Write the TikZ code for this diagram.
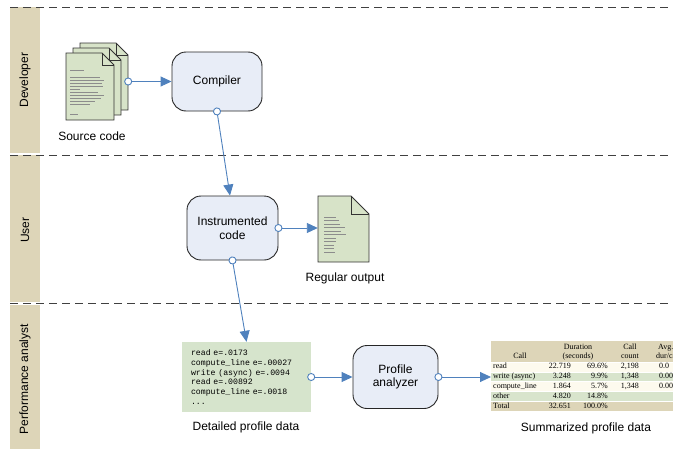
\documentclass[tikz,border=0pt]{standalone}
\usepackage{fontspec}
\setmainfont{Liberation Sans}
\newfontfamily\serifcell{Liberation Serif}
\newfontfamily\monocode{Liberation Mono}
\usetikzlibrary{arrows.meta}
\definecolor{lanetan}{RGB}{221,213,184}
\definecolor{boxfill}{RGB}{232,237,247}
\definecolor{docgreen}{RGB}{215,227,200}
\definecolor{datagreen}{RGB}{214,228,204}
\definecolor{rowcream}{RGB}{253,250,238}
\definecolor{rowgreen}{RGB}{216,228,204}
\definecolor{linkblue}{RGB}{79,129,189}
\newcommand\pageicon[5]{%
  \filldraw[docpage] (#1,#2) -- ({#1+#3-#5},#2) -- ({#1+#3},{#2+#5}) -- ({#1+#3},{#2+#4}) -- (#1,{#2+#4}) -- cycle;
  \draw[docedge] ({#1+#3-#5},#2) -- ({#1+#3-#5},{#2+#5}) -- ({#1+#3},{#2+#5});
}
\begin{document}
\begin{tikzpicture}[x=1pt,y=-1pt,
  sep/.style={draw=black!75, dash pattern=on 8pt off 5pt, line width=0.9pt},
  lanelbl/.style={rotate=90, font=\fontsize{12}{14}\selectfont},
  proc/.style={draw=black!85, fill=boxfill, rounded corners=14pt, line width=0.9pt,
    font=\fontsize{12}{13.5}\selectfont, align=center, inner sep=0pt},
  docpage/.style={draw=black!80, fill=docgreen, line width=0.8pt, line join=miter},
  docedge/.style={draw=black!80, line width=0.8pt},
  fake/.style={draw=black!45, line width=0.7pt},
  link/.style={draw=linkblue, line width=0.9pt,
    {Circle[length=8pt,width=8pt,fill=white,line width=0.9pt]}-{Triangle[length=11pt,width=10pt]},
    shorten <=-4pt},
  lbl/.style={font=\fontsize{12}{14}\selectfont, inner sep=0pt},
  cell/.style={font=\serifcell\fontsize{8}{9}\selectfont, inner sep=0pt, text height=5.6pt, text depth=1.6pt},
  rowsep/.style={draw=white, line width=0.6pt}
]
\useasboundingbox (0,0) rectangle (673,450);
\clip (0,0) rectangle (673,450);

% swim lanes
\fill[lanetan] (10,7) rectangle (40,153);
\fill[lanetan] (10,155) rectangle (40,302);
\fill[lanetan] (10,305) rectangle (40,449);
\node[lanelbl] (ldev) at (25,80) {Developer};
\node[lanelbl] (luser) at (25,230) {User};
\node[lanelbl] (lperf) at (25,379) {Performance analyst};
\draw[sep] (10,7) -- (673,7);
\draw[sep] (10,155) -- (673,155);
\draw[sep] (10,303) -- (673,303);

% source code pages
\pageicon{80}{43}{48}{67}{12}
\pageicon{73}{48}{48}{67}{12}
\pageicon{66}{53}{48}{67}{12}
\draw[fake] (70,70) -- (84,70);
\foreach \yy/\xe in {77/100,80/104,83/102,86/103,89/80,92/98,95/104,98/101,101/95,104/90}
  \draw[fake] (70,\yy) -- (\xe,\yy);
\draw[fake] (70,114) -- (78,114);
\node[inner sep=0pt, minimum width=62pt, minimum height=77pt] (src) at (97,81.5) {};
\node[lbl] (srclbl) at (92,136) {Source code};

% regular output page
\pageicon{318}{196}{51}{66}{18}
\foreach \yy/\xe in {217/336,220.5/339,224/340,227.5/345,231/341,234.5/346,238/336,241.5/336,245/334,248.5/334,252/335}
  \draw[fake] (324,\yy) -- (\xe,\yy);
\node[inner sep=0pt, minimum width=51pt, minimum height=66pt] (outdoc) at (343.5,228) {};
\node[lbl] (outlbl) at (345,278) {Regular output};

% process boxes
\node[proc, minimum width=90pt, minimum height=59pt] (comp) at (217,81.5) {Compiler};
\node[proc, minimum width=91pt, minimum height=64pt] (instr) at (232.5,228) {Instrumented\\code};
\node[proc, minimum width=85pt, minimum height=63pt] (anal) at (395.5,377) {Profile\\analyzer};

% detailed profile data
\node[fill=datagreen, minimum width=129pt, minimum height=70pt, text width=111pt,
  inner xsep=9pt, inner ysep=0pt, align=left,
  font=\monocode\fontsize{8.2}{9.8}\selectfont] (data) at (246.5,377)
  {read e=.0173\\compute\_line e=.00027\\write (async) e=.0094\\read e=.00892\\compute\_line e=.0018\\...};
\node[lbl] (datalbl) at (246,427) {Detailed profile data};

% summarized table
\fill[lanetan] (491,341) rectangle (700,362);
\fill[rowcream] (491,362) rectangle (700,371.8);
\fill[rowgreen] (491,371.8) rectangle (700,381.6);
\fill[rowcream] (491,381.6) rectangle (700,391.4);
\fill[rowgreen] (491,391.4) rectangle (700,401.2);
\fill[lanetan] (491,401.2) rectangle (700,411);
\foreach \yy in {362,371.8,381.6,391.4,401.2}
  \draw[rowsep] (491,\yy) -- (700,\yy);
\node[inner sep=0pt, minimum width=209pt, minimum height=70pt, anchor=west] (tbl) at (491,377) {};
\node[cell] (h1) at (578,347) {Duration};
\node[cell] (h2) at (578,356) {(seconds)};
\node[cell] (h3) at (630,347) {Call};
\node[cell] (h4) at (630,356) {count};
\node[cell, anchor=west] (h5) at (658,347) {Avg.};
\node[cell, anchor=west] (h6) at (656,356) {dur/call};
\node[cell] (h0) at (520,356) {Call};
% row 1
\node[cell, anchor=west] (ca1) at (493,366.9) {read};
\node[cell, anchor=east] (cb1) at (571,366.9) {22.719};
\node[cell, anchor=east] (cc1) at (608,366.9) {69.6\%};
\node[cell, anchor=east] (cd1) at (639,366.9) {2,198};
\node[cell, anchor=west] (ce1) at (659,366.9) {0.0};
% row 2
\node[cell, anchor=west] (ca2) at (493,376.7) {write (async)};
\node[cell, anchor=east] (cb2) at (571,376.7) {3.248};
\node[cell, anchor=east] (cc2) at (608,376.7) {9.9\%};
\node[cell, anchor=east] (cd2) at (639,376.7) {1,348};
\node[cell, anchor=west] (ce2) at (659,376.7) {0.00};
% row 3
\node[cell, anchor=west] (ca3) at (493,386.5) {compute\_line};
\node[cell, anchor=east] (cb3) at (571,386.5) {1.864};
\node[cell, anchor=east] (cc3) at (608,386.5) {5.7\%};
\node[cell, anchor=east] (cd3) at (639,386.5) {1,348};
\node[cell, anchor=west] (ce3) at (659,386.5) {0.00};
% row 4
\node[cell, anchor=west] (ca4) at (493,396.3) {other};
\node[cell, anchor=east] (cb4) at (571,396.3) {4.820};
\node[cell, anchor=east] (cc4) at (608,396.3) {14.8\%};
% row 5
\node[cell, anchor=west] (ca5) at (493,406.1) {Total};
\node[cell, anchor=east] (cb5) at (571,406.1) {32.651};
\node[cell, anchor=east] (cc5) at (608,406.1) {100.0\%};
\node[lbl] (tbllbl) at (586,428) {Summarized profile data};

% connectors
\draw[link] (src.east) -- (comp.west);
\draw[link] (comp.south) -- ([xshift=-2.5pt]instr.north);
\draw[link] (instr.east) -- (outdoc.west);
\draw[link] (instr.south) -- (data.north);
\draw[link] (data.east) -- (anal.west);
\draw[link] (anal.east) -- (tbl.west);
\end{tikzpicture}
\end{document}
